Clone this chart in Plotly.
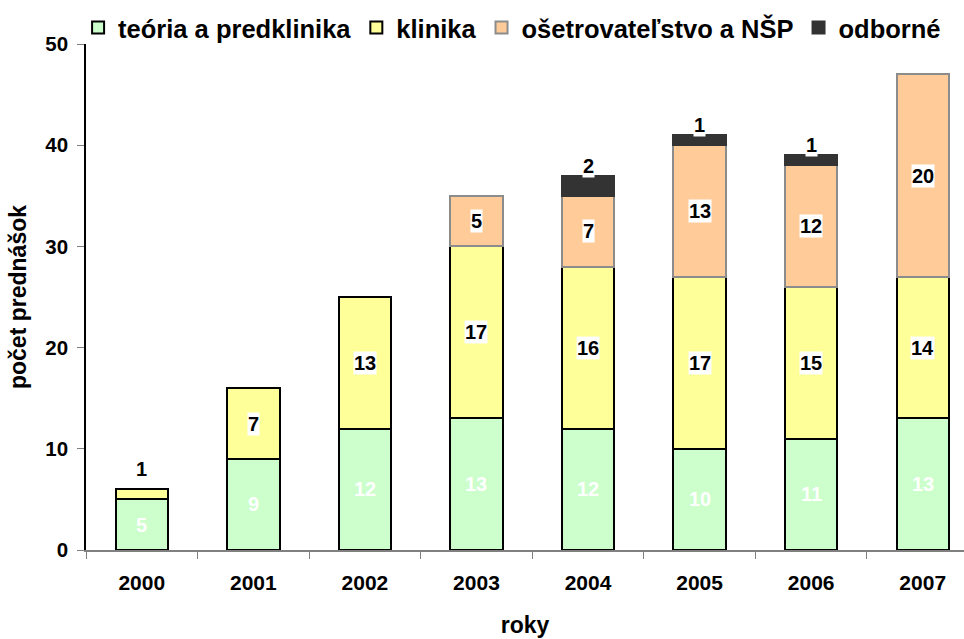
import plotly.graph_objects as go

years = ["2000", "2001", "2002", "2003", "2004", "2005", "2006", "2007"]
teoria = [5, 9, 12, 13, 12, 10, 11, 13]
klinika = [1, 7, 13, 17, 16, 17, 15, 14]
osetro = [0, 0, 0, 5, 7, 13, 12, 20]
odborne = [0, 0, 0, 0, 2, 1, 1, 0]

names = ["teória a predklinika", "klinika", "ošetrovateľstvo a NŠP", "odborné"]
fills = ["#CCFFCC", "#FFFF99", "#FFCC99", "#333333"]
edges = ["#000000", "#000000", "#8C8C8C", "#333333"]
series = [teoria, klinika, osetro, odborne]

FONT = "Liberation Sans, Arial, sans-serif"
LBL = 20

fig = go.Figure()
for name, vals, fc, ec in zip(names, series, fills, edges):
    fig.add_trace(go.Bar(
        x=years, y=[v if v else None for v in vals], name=f"<b>{name}</b>",
        marker=dict(color=fc, line=dict(color=ec, width=2)),
        width=0.47,
    ))

for i, yr in enumerate(years):
    base = 0
    total = teoria[i] + klinika[i] + osetro[i] + odborne[i]
    for s, vals in enumerate(series):
        v = vals[i]
        if not v:
            continue
        mid = base + v / 2
        top = base + v
        if s == 0:
            fig.add_annotation(x=i, y=mid, xref="x", yref="y", text=f"<b>{v}</b>",
                               showarrow=False,
                               font=dict(color="white", size=LBL, family=FONT))
        elif s == 3:
            fig.add_annotation(x=i, y=top, xref="x", yref="y", yanchor="middle",
                               yshift=10, text=f"<b>{v}</b>", showarrow=False,
                               bgcolor="white", borderpad=0,
                               font=dict(color="black", size=LBL, family=FONT))
        elif s == 1 and top == total and v < 2:
            fig.add_annotation(x=i, y=top, xref="x", yref="y", yanchor="middle",
                               yshift=20, text=f"<b>{v}</b>", showarrow=False,
                               font=dict(color="black", size=LBL, family=FONT))
        else:
            fig.add_annotation(x=i, y=mid, xref="x", yref="y", text=f"<b>{v}</b>",
                               showarrow=False, bgcolor="white", borderpad=0,
                               font=dict(color="black", size=LBL, family=FONT))
        base = top

fig.update_layout(
    barmode="stack",
    width=964, height=639,
    margin=dict(l=86, r=0, t=44, b=89, autoexpand=False),
    paper_bgcolor="white", plot_bgcolor="white",
    font=dict(family=FONT, color="black"),
    legend=dict(orientation="h", xref="container", yref="container",
                x=0.081, xanchor="left", y=1 - 28 / 639, yanchor="middle",
                font=dict(size=25.5, family=FONT), traceorder="normal",
                itemwidth=30, tracegroupgap=0, bgcolor="rgba(0,0,0,0)"),
    xaxis=dict(type="category", range=[-0.5, 7.37], showline=True, linecolor="#808080",
               linewidth=1.5, ticks="outside", tickson="boundaries", ticklen=7,
               tickcolor="#808080", ticklabelstandoff=13,
               tickfont=dict(size=21, family=FONT), tickprefix="<b>", ticksuffix="</b>",
               title=dict(text="<b>roky</b>", font=dict(size=23, family=FONT), standoff=24),
               showgrid=False),
    yaxis=dict(range=[0, 50], dtick=10, showline=True, linecolor="black", linewidth=1.5,
               ticks="outside", ticklen=7, tickcolor="#808080", showgrid=False,
               zeroline=False, ticklabelstandoff=5,
               tickfont=dict(size=20.5, family=FONT), tickprefix="<b>", ticksuffix="</b>",
               title=dict(text="<b>počet prednášok</b>", font=dict(size=23, family=FONT),
                          standoff=12)),
)

fig.write_html("out.html", config={"displayModeBar": False},
               post_script="document.body.style.margin='0';")
